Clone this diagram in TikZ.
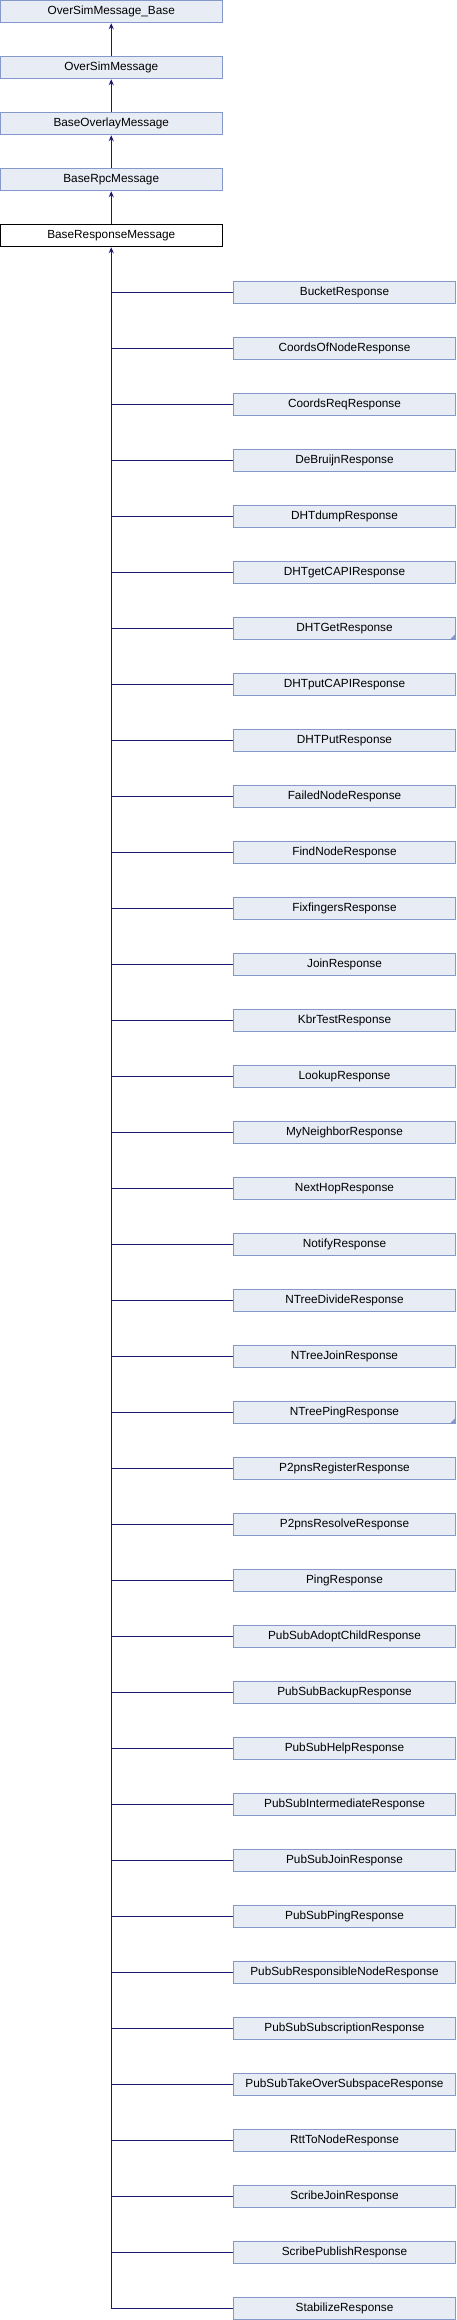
\documentclass[tikz,border=0pt]{standalone}
\usepackage{fontspec}
\setmainfont{Liberation Sans}
\usetikzlibrary{arrows.meta}
\definecolor{boxfill}{HTML}{E8ECF4}
\definecolor{boxline}{HTML}{8498C9}
\definecolor{edgecol}{HTML}{191970}
\tikzset{
  cls/.style={draw=boxline, fill=boxfill, line width=1pt, minimum height=22.5pt, inner sep=0pt, font=\fontsize{11.8}{13}\selectfont},
  topcls/.style={cls, minimum width=222pt},
  child/.style={cls, minimum width=222pt},
  current/.style={cls, draw=black, fill=white, minimum width=222pt},
  edge/.style={draw=edgecol, line width=1pt},
  inh/.style={edge, {Stealth[length=6pt,width=5pt]}-},
  trunc/.style={fill=boxline, draw=none}
}
\begin{document}
\begin{tikzpicture}[x=1pt,y=-1pt]
\useasboundingbox (0,0) rectangle (456,2320);
\node[topcls] (b0) at (111.25,11.5) {OverSimMessage\_Base};
\node[topcls] (b1) at (111.25,67.5) {OverSimMessage};
\node[topcls] (b2) at (111.25,123.5) {BaseOverlayMessage};
\node[topcls] (b3) at (111.25,179.5) {BaseRpcMessage};
\node[current] (b4) at (111.25,235.5) {BaseResponseMessage};
\draw[inh] (b0.south) -- (b1.north);
\draw[inh] (b1.south) -- (b2.north);
\draw[inh] (b2.south) -- (b3.north);
\draw[inh] (b3.south) -- (b4.north);
\foreach \name [count=\i from 0] in {BucketResponse,CoordsOfNodeResponse,CoordsReqResponse,DeBruijnResponse,DHTdumpResponse,DHTgetCAPIResponse,DHTGetResponse,DHTputCAPIResponse,DHTPutResponse,FailedNodeResponse,FindNodeResponse,FixfingersResponse,JoinResponse,KbrTestResponse,LookupResponse,MyNeighborResponse,NextHopResponse,NotifyResponse,NTreeDivideResponse,NTreeJoinResponse,NTreePingResponse,P2pnsRegisterResponse,P2pnsResolveResponse,PingResponse,PubSubAdoptChildResponse,PubSubBackupResponse,PubSubHelpResponse,PubSubIntermediateResponse,PubSubJoinResponse,PubSubPingResponse,PubSubResponsibleNodeResponse,PubSubSubscriptionResponse,PubSubTakeOverSubspaceResponse,RttToNodeResponse,ScribeJoinResponse,ScribePublishResponse,StabilizeResponse}{
  \node[child] (c\i) at (344.5,{292.5+56*\i}) {\name};
  \coordinate (j\i) at (111.25,{292.5+56*\i});
  \draw[edge] (j\i) -- (c\i.west);
}
\draw[inh] (b4.south) -- (j36);
\fill[trunc] ([shift={(-0.5,-0.5)}]c6.south east) -- ++(-6,0) -- ++(6,-6) -- cycle;
\fill[trunc] ([shift={(-0.5,-0.5)}]c20.south east) -- ++(-6,0) -- ++(6,-6) -- cycle;
\end{tikzpicture}
\end{document}
